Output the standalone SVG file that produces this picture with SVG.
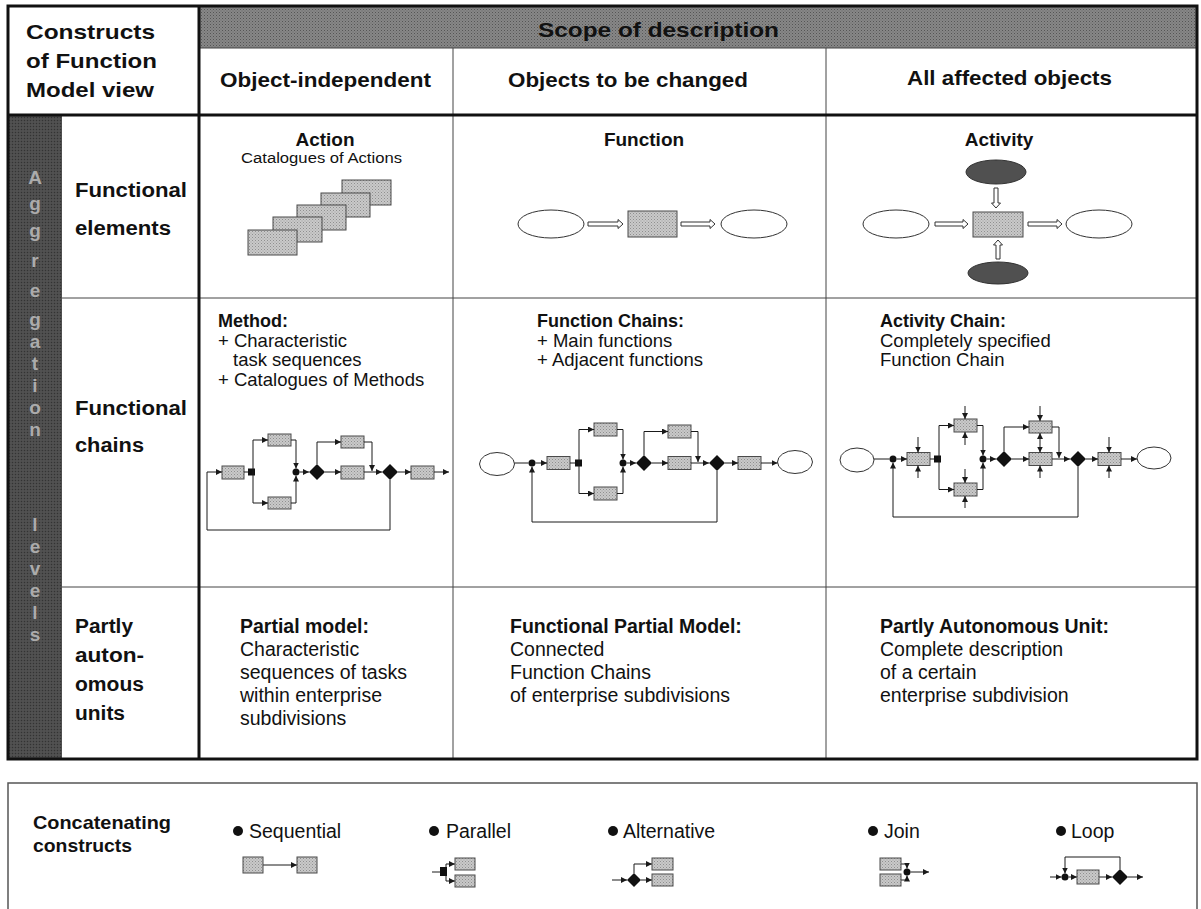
<svg xmlns="http://www.w3.org/2000/svg" width="1201" height="909" viewBox="0 0 1201 909">
  <defs>
    <marker id="ah" viewBox="0 0 6 6" refX="6" refY="3" markerWidth="6" markerHeight="6" orient="auto" markerUnits="userSpaceOnUse">
      <path d="M0,0 L6,3 L0,6 z" fill="#1a1a1a"/>
    </marker>
    <pattern id="dots" width="3" height="3" patternUnits="userSpaceOnUse">
      <rect width="3" height="3" fill="#c9c9c9"/>
      <rect x="0" y="0" width="1" height="1" fill="#8f8f8f"/>
      <rect x="1.5" y="1.5" width="1" height="1" fill="#a0a0a0"/>
    </pattern>
    <pattern id="band" width="3" height="3" patternUnits="userSpaceOnUse">
      <rect width="3" height="3" fill="#878787"/>
      <rect x="0" y="0" width="1" height="1" fill="#555"/>
      <rect x="1.5" y="1.5" width="1" height="1" fill="#666"/>
    </pattern>
    <pattern id="bar" width="3" height="3" patternUnits="userSpaceOnUse">
      <rect width="3" height="3" fill="#4c4c4c"/>
      <rect x="0" y="0" width="1" height="1" fill="#333"/>
      <rect x="1.5" y="1.5" width="1" height="1" fill="#5e5e5e"/>
    </pattern>
    <style>
      text { font-family: "Liberation Sans", Arial, sans-serif; fill: #111; }
      .hd { font-size: 21px; font-weight: bold; }
      .rl { font-size: 20px; font-weight: bold; }
      .tt { font-size: 19px; font-weight: bold; }
      .sm { font-size: 14px; }
      .bd { font-size: 18.5px; }
      .bb { font-size: 18px; font-weight: bold; }
      .pd { font-size: 19.5px; }
      .pb { font-size: 19.5px; font-weight: bold; }
      .lg { font-size: 19.5px; }
      .lb { font-size: 18.5px; font-weight: bold; }
      .vl { font-size: 19px; font-weight: bold; fill: #ababab; text-anchor: middle; }
      .box { fill: url(#dots); stroke: #4a4a4a; stroke-width: 1; }
      .obj { fill: #fff; stroke: #333; stroke-width: 1; }
      .res { fill: #505050; stroke: #333; stroke-width: 1; }
      .hol { fill: #fff; stroke: #333; stroke-width: 1; }
      .cn { fill: none; stroke: #1a1a1a; stroke-width: 1; }
      .ar { fill: none; stroke: #1a1a1a; stroke-width: 1; marker-end: url(#ah); }
      .blk { fill: #111; stroke: none; }
      .thick { stroke: #111; stroke-width: 3; fill: none; }
      .thin { stroke: #444; stroke-width: 1; fill: none; }
    </style>
  </defs>

  <rect width="1201" height="909" fill="#fff"/>

  <!-- table frame and bands -->
  <g id="table">
    <rect x="200" y="6" width="997" height="42" fill="url(#band)"/>
    <rect x="8" y="115" width="54" height="644" fill="url(#bar)"/>
    <line class="thin" x1="200" y1="48" x2="1197" y2="48"/>
    <line class="thin" x1="453" y1="48" x2="453" y2="759"/>
    <line class="thin" x1="826" y1="48" x2="826" y2="759"/>
    <line class="thin" x1="62" y1="298" x2="1197" y2="298" stroke-width="1.5"/>
    <line class="thin" x1="62" y1="587" x2="1197" y2="587" stroke-width="1.5"/>
    <line class="thick" x1="8" y1="115" x2="1197" y2="115"/>
    <line class="thick" x1="199" y1="6" x2="199" y2="759"/>
    <rect class="thick" x="8" y="6" width="1189" height="753"/>
  </g>

  <!-- header texts -->
  <g id="header">
    <text class="hd" x="26" y="39" textLength="129" lengthAdjust="spacingAndGlyphs">Constructs</text>
    <text class="hd" x="26" y="68" textLength="131" lengthAdjust="spacingAndGlyphs">of Function</text>
    <text class="hd" x="26" y="97" textLength="128" lengthAdjust="spacingAndGlyphs">Model view</text>
    <text class="hd" x="538" y="37" textLength="241" lengthAdjust="spacingAndGlyphs">Scope of description</text>
    <text class="hd" x="220" y="87" textLength="211" lengthAdjust="spacingAndGlyphs">Object-independent</text>
    <text class="hd" x="508" y="87" textLength="240" lengthAdjust="spacingAndGlyphs">Objects to be changed</text>
    <text class="hd" x="907" y="85" textLength="205" lengthAdjust="spacingAndGlyphs">All affected objects</text>
  </g>

  <!-- vertical level caption, one letter per line -->
  <g id="levels-caption">
    <text class="vl" x="35" y="184">A</text>
    <text class="vl" x="35" y="210">g</text>
    <text class="vl" x="35" y="237">g</text>
    <text class="vl" x="35" y="267">r</text>
    <text class="vl" x="35" y="297">e</text>
    <text class="vl" x="35" y="326">g</text>
    <text class="vl" x="35" y="348">a</text>
    <text class="vl" x="35" y="370">t</text>
    <text class="vl" x="35" y="392">i</text>
    <text class="vl" x="35" y="414">o</text>
    <text class="vl" x="35" y="436">n</text>
    <text class="vl" x="35" y="531">l</text>
    <text class="vl" x="35" y="553">e</text>
    <text class="vl" x="35" y="575">v</text>
    <text class="vl" x="35" y="597">e</text>
    <text class="vl" x="35" y="619">l</text>
    <text class="vl" x="35" y="641">s</text>
  </g>

  <!-- row labels -->
  <g id="row-labels">
    <text class="rl" x="75" y="197" textLength="112" lengthAdjust="spacingAndGlyphs">Functional</text>
    <text class="rl" x="75" y="235" textLength="96" lengthAdjust="spacingAndGlyphs">elements</text>
    <text class="rl" x="75" y="415" textLength="112" lengthAdjust="spacingAndGlyphs">Functional</text>
    <text class="rl" x="75" y="452" textLength="69" lengthAdjust="spacingAndGlyphs">chains</text>
    <text class="rl" x="75" y="633" textLength="58" lengthAdjust="spacingAndGlyphs">Partly</text>
    <text class="rl" x="75" y="662" textLength="69" lengthAdjust="spacingAndGlyphs">auton-</text>
    <text class="rl" x="75" y="691" textLength="69" lengthAdjust="spacingAndGlyphs">omous</text>
    <text class="rl" x="75" y="720" textLength="50" lengthAdjust="spacingAndGlyphs">units</text>
  </g>

  <!-- functional elements row -->
  <g id="action">
    <text class="tt" x="325" y="146" text-anchor="middle">Action</text>
    <text class="sm" x="241" y="163" textLength="161" lengthAdjust="spacingAndGlyphs">Catalogues of Actions</text>
    <rect class="box" x="342" y="180" width="49" height="25"/>
    <rect class="box" x="321" y="193" width="49" height="24"/>
    <rect class="box" x="297" y="205" width="49" height="25"/>
    <rect class="box" x="273" y="217" width="49" height="25"/>
    <rect class="box" x="248" y="230" width="49" height="25"/>
  </g>

  <g id="function">
    <text class="tt" x="644" y="146" text-anchor="middle">Function</text>
    <ellipse class="obj" cx="551" cy="224" rx="33" ry="14"/>
    <path class="hol" d="M588,222 H618 V219.5 L623,224 L618,228.5 V226 H588 Z"/>
    <rect class="box" x="628" y="211" width="49" height="26"/>
    <path class="hol" d="M681,222 H710 V219.5 L715,224 L710,228.5 V226 H681 Z"/>
    <ellipse class="obj" cx="754" cy="224" rx="33" ry="14"/>
  </g>

  <g id="activity">
    <text class="tt" x="999" y="146" text-anchor="middle">Activity</text>
    <ellipse class="res" cx="996" cy="172" rx="30" ry="12"/>
    <path class="hol" d="M994,188 V203 H991.5 L996,208 L1000.5,203 H998 V188 Z"/>
    <ellipse class="obj" cx="896" cy="224" rx="33" ry="14"/>
    <path class="hol" d="M935,222 H963 V219.5 L968,224 L963,228.5 V226 H935 Z"/>
    <rect class="box" x="973" y="212" width="50" height="25"/>
    <path class="hol" d="M1028,222 H1057 V219.5 L1062,224 L1057,228.5 V226 H1028 Z"/>
    <ellipse class="obj" cx="1099" cy="224" rx="33" ry="14"/>
    <path class="hol" d="M996,259 V245 H993.5 L998,240 L1002.5,245 H1000 V259 Z"/>
    <ellipse class="res" cx="998" cy="273" rx="30" ry="11"/>
  </g>

  <!-- functional chains row: texts -->
  <g id="method-text">
    <text class="bb" x="218" y="327">Method:</text>
    <text class="bd" x="218" y="347">+ Characteristic</text>
    <text class="bd" x="233" y="366">task sequences</text>
    <text class="bd" x="218" y="386">+ Catalogues of Methods</text>
  </g>
  <g id="function-chains-text">
    <text class="bb" x="537" y="327">Function Chains:</text>
    <text class="bd" x="537" y="347">+ Main functions</text>
    <text class="bd" x="537" y="366">+ Adjacent functions</text>
  </g>
  <g id="activity-chain-text">
    <text class="bb" x="880" y="327">Activity Chain:</text>
    <text class="bd" x="880" y="347">Completely specified</text>
    <text class="bd" x="880" y="366">Function Chain</text>
  </g>

  <!-- method chain nodes -->
  <g id="method-chain">
    <rect class="box" x="222" y="466" width="22" height="13"/>
    <rect class="blk" x="248" y="468.5" width="7" height="7"/>
    <rect class="box" x="268" y="434" width="23" height="12"/>
    <rect class="box" x="268" y="497" width="23" height="12"/>
    <circle class="blk" cx="296" cy="472" r="3.5"/>
    <path class="blk" d="M309,472 L317,464 L325,472 L317,480 Z"/>
    <rect class="box" x="341" y="436" width="23" height="12"/>
    <rect class="box" x="341" y="466" width="23" height="13"/>
    <path class="blk" d="M382,472 L390,464 L398,472 L390,480 Z"/>
    <rect class="box" x="411" y="466" width="23" height="13"/>
  </g>

  <!-- function chain nodes -->
  <g id="function-chain">
    <ellipse class="obj" cx="497" cy="464" rx="17.5" ry="11.5"/>
    <circle class="blk" cx="532" cy="463" r="3.5"/>
    <rect class="box" x="547" y="456.5" width="23" height="13"/>
    <rect class="blk" x="575" y="459.5" width="7" height="7"/>
    <rect class="box" x="594" y="423" width="23" height="13"/>
    <rect class="box" x="594" y="487" width="23" height="13"/>
    <circle class="blk" cx="623" cy="463" r="3.5"/>
    <path class="blk" d="M636,463 L644,455 L652,463 L644,471 Z"/>
    <rect class="box" x="668" y="425" width="23" height="13"/>
    <rect class="box" x="668" y="456.5" width="23" height="13"/>
    <path class="blk" d="M709,463 L717,455 L725,463 L717,471 Z"/>
    <rect class="box" x="738" y="456.5" width="23" height="13"/>
    <ellipse class="obj" cx="795" cy="462" rx="17.5" ry="11.5"/>
  </g>

  <!-- activity chain nodes -->
  <g id="activity-chain">
    <ellipse class="obj" cx="857" cy="460" rx="17" ry="12"/>
    <circle class="blk" cx="893" cy="459" r="3.5"/>
    <rect class="box" x="907" y="452.5" width="23" height="13"/>
    <rect class="blk" x="934" y="455.5" width="7" height="7"/>
    <rect class="box" x="954" y="419" width="23" height="13"/>
    <rect class="box" x="954" y="483" width="23" height="13"/>
    <circle class="blk" cx="983" cy="459" r="3.5"/>
    <path class="blk" d="M996,459 L1004,451 L1012,459 L1004,467 Z"/>
    <rect class="box" x="1029" y="421" width="23" height="12"/>
    <rect class="box" x="1029" y="452.5" width="23" height="13"/>
    <path class="blk" d="M1070,459 L1078,451 L1086,459 L1078,467 Z"/>
    <rect class="box" x="1098" y="452.5" width="23" height="13"/>
    <ellipse class="obj" cx="1154" cy="458" rx="17" ry="11"/>
  </g>

  <!-- connectors of the chain diagrams and legend icons -->
  <g id="connectors">
    <!-- method chain -->
    <path class="ar" d="M390,480 V530 H207 V472 H222"/>
    <path class="cn" d="M244,472 H248"/>
    <path class="ar" d="M253,472 V440 H268"/>
    <path class="ar" d="M253,472 V503 H268"/>
    <path class="ar" d="M291,440 H296 V468.5"/>
    <path class="ar" d="M291,503 H296 V475.5"/>
    <path class="ar" d="M299.5,472 H309"/>
    <path class="ar" d="M317,464 V442 H341"/>
    <path class="ar" d="M325,472 H341"/>
    <path class="ar" d="M364,442 H372 V471"/>
    <path class="ar" d="M364,472 H382"/>
    <path class="ar" d="M398,472 H411"/>
    <path class="ar" d="M434,472 H449"/>
    <!-- function chain -->
    <path class="cn" d="M514.5,463 H528.5"/>
    <path class="ar" d="M535.5,463 H547"/>
    <path class="cn" d="M570,463 H575"/>
    <path class="ar" d="M579,463 V429.5 H594"/>
    <path class="ar" d="M579,463 V493.5 H594"/>
    <path class="ar" d="M617,429.5 H623 V459.5"/>
    <path class="ar" d="M617,493.5 H623 V466.5"/>
    <path class="ar" d="M626.5,463 H636"/>
    <path class="ar" d="M644,455 V431.5 H668"/>
    <path class="ar" d="M652,463 H668"/>
    <path class="ar" d="M691,431.5 H698 V462"/>
    <path class="ar" d="M691,463 H709"/>
    <path class="ar" d="M725,463 H738"/>
    <path class="ar" d="M761,463 H777.5"/>
    <path class="ar" d="M717,471 V522 H532 V466.5"/>
    <!-- activity chain -->
    <path class="cn" d="M874,459 H889.5"/>
    <path class="ar" d="M896.5,459 H907"/>
    <path class="ar" d="M918,437 V452.5"/>
    <path class="ar" d="M918,478 V465.5"/>
    <path class="cn" d="M930,459 H934"/>
    <path class="ar" d="M939,459 V425.5 H954"/>
    <path class="ar" d="M939,459 V489.5 H954"/>
    <path class="ar" d="M965,406 V419"/>
    <path class="ar" d="M965,445 V432"/>
    <path class="ar" d="M965,469 V483"/>
    <path class="ar" d="M965,508 V496"/>
    <path class="ar" d="M977,425.5 H983 V455.5"/>
    <path class="ar" d="M977,489.5 H983 V462.5"/>
    <path class="ar" d="M986.5,459 H996"/>
    <path class="ar" d="M1004,451 V427 H1029"/>
    <path class="ar" d="M1012,459 H1029"/>
    <path class="ar" d="M1040,406 V421"/>
    <path class="ar" d="M1040,443 V433"/>
    <path class="ar" d="M1040,443 V452.5"/>
    <path class="ar" d="M1040,478 V465.5"/>
    <path class="ar" d="M1052,427 H1059 V458"/>
    <path class="ar" d="M1052,459 H1070"/>
    <path class="ar" d="M1086,459 H1098"/>
    <path class="ar" d="M1109,437 V452.5"/>
    <path class="ar" d="M1109,478 V465.5"/>
    <path class="ar" d="M1121,459 H1137"/>
    <path class="ar" d="M1078,467 V517 H893 V462.5"/>
    <!-- legend: sequential -->
    <path class="ar" d="M263,865 H297"/>
    <!-- legend: parallel -->
    <path class="cn" d="M432,872 H441"/>
    <path class="ar" d="M446,872 V864 H455"/>
    <path class="ar" d="M446,872 V881 H455"/>
    <!-- legend: alternative -->
    <path class="ar" d="M612,880 H627"/>
    <path class="ar" d="M634,873 V864 H652"/>
    <path class="ar" d="M641,880 H652"/>
    <!-- legend: join -->
    <path class="ar" d="M901,864 H907 V868.5"/>
    <path class="ar" d="M901,880 H907 V875.5"/>
    <path class="ar" d="M910.5,872 H929"/>
    <!-- legend: loop -->
    <path class="ar" d="M1050,877 H1061.5"/>
    <path class="ar" d="M1120,869 V857 H1065 V873.5"/>
    <path class="ar" d="M1068.5,877 H1077"/>
    <path class="ar" d="M1099,877 H1112"/>
    <path class="ar" d="M1128,877 H1143"/>
  </g>

  <!-- partly autonomous units row -->
  <g id="partial-model">
    <text class="pb" x="240" y="633">Partial model:</text>
    <text class="pd" x="240" y="656">Characteristic</text>
    <text class="pd" x="240" y="679">sequences of tasks</text>
    <text class="pd" x="240" y="702">within enterprise</text>
    <text class="pd" x="240" y="725">subdivisions</text>
  </g>
  <g id="functional-partial-model">
    <text class="pb" x="510" y="633">Functional Partial Model:</text>
    <text class="pd" x="510" y="656">Connected</text>
    <text class="pd" x="510" y="679">Function Chains</text>
    <text class="pd" x="510" y="702">of enterprise subdivisions</text>
  </g>
  <g id="partly-autonomous-unit">
    <text class="pb" x="880" y="633">Partly Autonomous Unit:</text>
    <text class="pd" x="880" y="656">Complete description</text>
    <text class="pd" x="880" y="679">of a certain</text>
    <text class="pd" x="880" y="702">enterprise subdivision</text>
  </g>

  <!-- legend of concatenating constructs -->
  <g id="legend">
    <rect x="8" y="783" width="1189" height="140" fill="none" stroke="#555" stroke-width="1.5"/>
    <text class="lb" x="33" y="829" textLength="138" lengthAdjust="spacingAndGlyphs">Concatenating</text>
    <text class="lb" x="33" y="852" textLength="99" lengthAdjust="spacingAndGlyphs">constructs</text>
  </g>
  <g id="legend-sequential">
    <circle class="blk" cx="238" cy="831" r="5"/>
    <text class="lg" x="249" y="838">Sequential</text>
    <rect class="box" x="243" y="857" width="20" height="16"/>
    <rect class="box" x="297" y="857" width="20" height="16"/>
  </g>
  <g id="legend-parallel">
    <circle class="blk" cx="434" cy="831" r="5"/>
    <text class="lg" x="446" y="838">Parallel</text>
    <rect class="blk" x="440" y="867" width="7" height="9"/>
    <rect class="box" x="455" y="858" width="20" height="12"/>
    <rect class="box" x="455" y="875" width="20" height="12"/>
  </g>
  <g id="legend-alternative">
    <circle class="blk" cx="613" cy="831" r="5"/>
    <text class="lg" x="623" y="838">Alternative</text>
    <path class="blk" d="M627,880 L634,873 L641,880 L634,887 Z"/>
    <rect class="box" x="652" y="858" width="21" height="12"/>
    <rect class="box" x="652" y="874" width="21" height="12"/>
  </g>
  <g id="legend-join">
    <circle class="blk" cx="873" cy="831" r="5"/>
    <text class="lg" x="884" y="838">Join</text>
    <rect class="box" x="880" y="858" width="21" height="12"/>
    <rect class="box" x="880" y="874" width="21" height="12"/>
    <circle class="blk" cx="907" cy="872" r="3.5"/>
  </g>
  <g id="legend-loop">
    <circle class="blk" cx="1061" cy="831" r="5"/>
    <text class="lg" x="1071" y="838">Loop</text>
    <circle class="blk" cx="1065" cy="877" r="3.5"/>
    <rect class="box" x="1077" y="870" width="22" height="14"/>
    <path class="blk" d="M1112,877 L1120,869 L1128,877 L1120,885 Z"/>
  </g>
</svg>
